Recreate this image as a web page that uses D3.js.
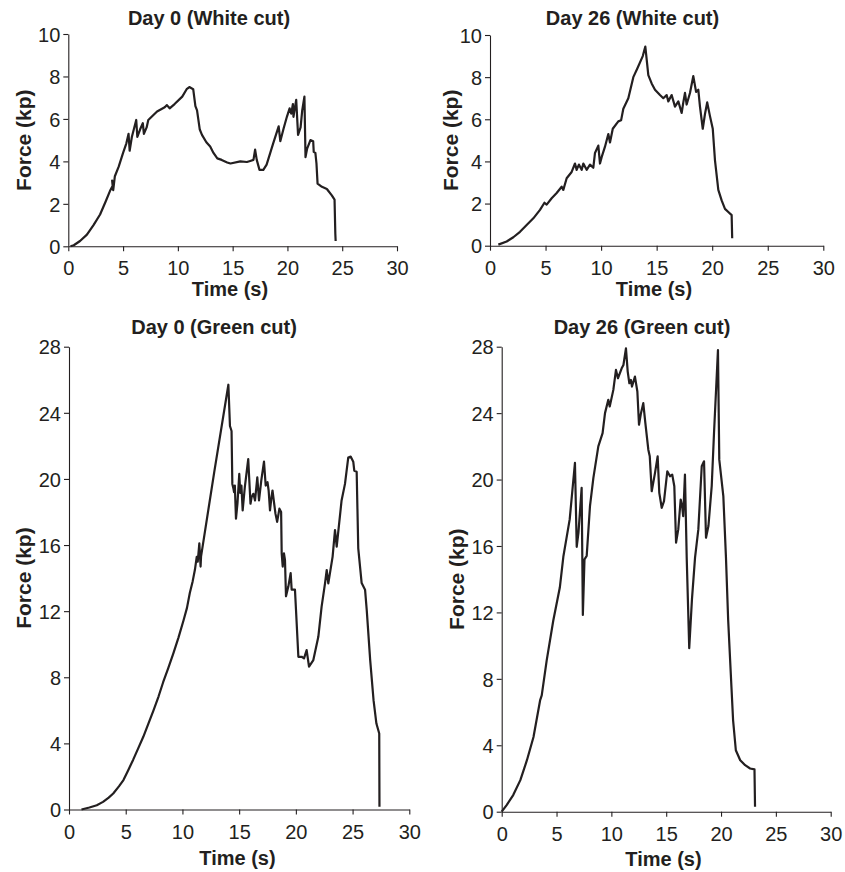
<!DOCTYPE html>
<html>
<head>
<meta charset="utf-8">
<script src="https://cdn.jsdelivr.net/npm/d3@7"></script>
<style>
html,body{margin:0;padding:0;background:#fff;}
svg{display:block;}
text{font-family:"Liberation Sans",Arial,Helvetica,sans-serif;fill:#231f20;}
</style>
</head>
<body>
<svg id="chart" width="845" height="872"></svg>
<script>
// ---------------- DATA ----------------
const titles = ["Day 0 (White cut)", "Day 26 (White cut)", "Day 0 (Green cut)", "Day 26 (Green cut)"];
const xLabel = "Time (s)";
const yLabel = "Force (kp)";
const xTicks = [0, 5, 10, 15, 20, 25, 30];
const yTicksWhite = [0, 2, 4, 6, 8, 10];
const yTicksGreen = [0, 4, 8, 12, 16, 20, 24, 28];

// [time (s), force (kp)]
const day0White = [
  [0.2,0],[0.5,0.05],[1.07,0.25],[1.7,0.55],[2.3,1.0],[2.9,1.5],[3.4,2.1],[3.8,2.6],[4.05,2.85],[4.0,3.1],[4.1,2.65],[4.25,3.3],
  [4.6,3.75],[5.0,4.4],[5.3,4.85],[5.5,5.3],[5.6,4.5],[5.8,5.15],[6.2,5.95],[6.3,5.15],[6.55,5.5],[6.8,5.8],[6.9,5.3],
  [7.15,5.6],[7.3,5.95],[8.1,6.35],[8.8,6.55],[9.0,6.65],[9.25,6.5],[9.7,6.7],[10.4,7.05],[10.8,7.4],[11.05,7.5],
  [11.4,7.4],[11.6,6.6],[11.75,6.4],[12.0,5.5],[12.2,5.25],[12.6,4.9],[12.95,4.7],[13.25,4.4],[13.6,4.14],[14.0,4.07],
  [14.5,3.95],[14.8,3.9],[15.7,4.0],[16.3,3.97],[16.6,4.02],[16.9,4.07],[17.05,4.55],[17.2,4.07],[17.45,3.6],[17.8,3.6],
  [18.1,3.85],[18.7,4.85],[19.2,5.65],[19.35,4.95],[19.65,5.55],[19.95,6.1],[20.2,6.5],[20.35,6.25],[20.5,6.7],[20.55,6.1],
  [20.8,6.9],[20.97,5.25],[21.2,5.6],[21.35,6.4],[21.55,7.05],[21.65,4.2],[21.8,4.6],[22.1,5.0],[22.35,4.95],[22.4,4.45],
  [22.55,4.4],[22.65,3.9],[22.75,2.95],[23.15,2.8],[23.6,2.7],[24.05,2.4],[24.3,2.2],[24.37,0.6],[24.4,0.25]
];
const day26White = [
  [0.75,0.05],[1.5,0.2],[2.1,0.4],[2.7,0.66],[3.3,0.98],[3.9,1.3],[4.5,1.7],[4.9,2.04],[5.1,1.95],[5.55,2.25],[6.0,2.5],
  [6.45,2.8],[6.6,2.65],[6.9,3.2],[7.35,3.5],[7.65,3.9],[7.8,3.6],[8.0,3.85],[8.25,3.6],[8.4,3.9],[8.7,3.6],[9.0,3.85],
  [9.3,3.7],[9.45,4.4],[9.75,4.75],[9.9,3.9],[10.05,4.2],[10.35,4.7],[10.65,5.3],[10.8,4.9],[11.05,5.55],[11.55,5.9],
  [11.8,5.95],[12.0,6.5],[12.45,7.0],[12.9,8.0],[13.25,8.4],[13.75,9.0],[13.98,9.45],[14.05,9.1],[14.25,8.1],[14.55,7.7],
  [14.85,7.4],[15.3,7.15],[15.6,7.0],[15.9,7.15],[16.05,6.85],[16.35,7.15],[16.65,6.6],[16.95,6.85],[17.25,6.3],[17.4,6.8],
  [17.55,7.25],[17.7,6.7],[18.0,7.25],[18.3,8.05],[18.55,7.3],[18.75,7.4],[18.9,6.6],[19.15,5.55],[19.35,6.25],[19.55,6.8],
  [19.8,6.15],[20.05,5.55],[20.25,4.05],[20.55,2.65],[20.85,2.15],[21.15,1.75],[21.45,1.6],[21.75,1.45],[21.8,0.35]
];
const day0Green = [
  [1.1,0],[1.8,0.12],[2.45,0.26],[3.0,0.46],[3.5,0.72],[3.9,0.97],[4.4,1.4],[4.8,1.78],[5.2,2.35],[5.65,3.0],[6.1,3.7],
  [6.55,4.4],[7.0,5.2],[7.45,6.0],[7.9,6.85],[8.3,7.7],[8.75,8.55],[9.2,9.45],[9.65,10.4],[10.1,11.45],[10.4,12.2],
  [10.65,13.1],[10.9,13.8],[11.1,14.5],[11.26,15.29],[11.35,15.0],[11.49,16.1],[11.6,14.7],[11.64,15.3],[12.8,20.4],
  [14.05,25.7],[14.19,23.2],[14.33,22.9],[14.4,19.7],[14.5,19.4],[14.55,19.2],[14.62,19.6],[14.72,17.6],[14.85,18.5],
  [15.01,20.3],[15.1,19.15],[15.2,19.6],[15.31,18.1],[15.5,19.5],[15.8,21.2],[16.0,18.5],[16.1,18.9],[16.25,19.1],
  [16.4,18.7],[16.6,20.1],[16.75,18.7],[16.95,19.9],[17.19,21.05],[17.34,19.6],[17.5,19.8],[17.6,19.3],[17.72,18.1],
  [17.85,18.9],[17.94,19.3],[18.2,17.9],[18.35,17.4],[18.55,18.2],[18.7,18.0],[18.75,15.5],[18.84,14.7],[18.95,15.5],
  [19.04,15.1],[19.13,12.9],[19.34,13.5],[19.54,14.3],[19.63,13.3],[19.92,13.3],[20.01,12.1],[20.22,9.24],[20.51,9.24],
  [20.72,9.14],[20.95,9.64],[21.16,8.64],[21.54,9.04],[21.98,10.45],[22.27,12.27],[22.57,13.68],[22.72,14.49],[22.86,13.68],
  [23.24,15.3],[23.45,16.9],[23.6,15.9],[24.03,18.7],[24.33,19.7],[24.62,21.3],[24.83,21.35],[25.06,21.04],[25.15,20.5],
  [25.36,20.44],[25.5,15.8],[25.8,13.7],[26.1,13.3],[26.25,12.05],[26.55,9.05],[26.85,6.6],[27.1,5.2],[27.35,4.6],[27.37,0.16]
];
const day26Green = [
  [0,0],[0.45,0.4],[1.05,1.0],[1.7,1.9],[2.3,3.1],[2.9,4.5],[3.5,6.7],[3.65,7.0],[4.1,9.1],[4.7,11.5],[5.3,13.5],
  [5.62,15.35],[6.2,17.6],[6.68,21.0],[6.84,15.95],[7.0,16.8],[7.29,19.5],[7.4,11.85],[7.55,15.2],[7.75,15.4],[8.05,18.4],
  [8.36,20.1],[8.81,22.0],[9.2,22.8],[9.42,24.0],[9.72,24.8],[9.85,24.4],[10.18,25.4],[10.42,26.6],[10.6,26.1],[10.94,26.7],
  [11.1,26.9],[11.33,27.9],[11.49,26.5],[11.64,25.8],[11.78,26.0],[11.88,25.6],[12.15,26.2],[12.37,25.3],[12.52,23.3],
  [12.7,24.0],[12.91,24.6],[13.1,23.4],[13.37,21.8],[13.5,21.4],[13.68,19.3],[13.98,20.4],[14.22,21.4],[14.37,19.2],
  [14.59,18.3],[14.8,18.7],[15.1,20.5],[15.35,20.2],[15.55,20.3],[15.74,19.6],[15.9,16.2],[16.1,17.0],[16.32,18.8],
  [16.45,18.4],[16.55,17.8],[16.71,20.3],[16.87,15.3],[17.1,9.85],[17.35,12.8],[17.63,15.3],[17.93,17.0],[18.24,20.8],
  [18.45,21.1],[18.63,16.5],[18.85,17.2],[19.15,19.6],[19.36,22.8],[19.72,27.8],[19.84,21.2],[20.21,19.0],[20.45,15.3],
  [20.65,11.55],[20.95,7.5],[21.1,5.5],[21.35,3.7],[21.75,3.1],[22.2,2.8],[22.65,2.6],[23.05,2.55],[23.1,0.3]
];

// ---------------- LAYOUT ----------------
const ink = "#231f20";
const panels = [
  {data: day0White,  title: titles[0], yMax: 10, yTicks: yTicksWhite, x0: 68.3,  x1: 397,   yTop: 34,    yBot: 246.3,
   titleX: 209,   titleY: 18,  xlabX: 230,   xlabY: 289, ylabX: 23.5},
  {data: day26White, title: titles[1], yMax: 10, yTicks: yTicksWhite, x0: 490,   x1: 823.3, yTop: 35,    yBot: 245.7,
   titleX: 632.5, titleY: 18,  xlabX: 654,   xlabY: 289, ylabX: 450},
  {data: day0Green,  title: titles[2], yMax: 28, yTicks: yTicksGreen, x0: 69,    x1: 409.3, yTop: 346.7, yBot: 809.5,
   titleX: 214,   titleY: 327, xlabX: 237.5, xlabY: 858, ylabX: 23.5},
  {data: day26Green, title: titles[3], yMax: 28, yTicks: yTicksGreen, x0: 501.7, x1: 830.7, yTop: 346.7, yBot: 811.7,
   titleX: 642,   titleY: 327, xlabX: 663.5, xlabY: 859, ylabX: 456.5}
];

const svg = d3.select("#chart");

panels.forEach(p => {
  const x = d3.scaleLinear().domain([0, 30]).range([p.x0, p.x1]);
  const y = d3.scaleLinear().domain([0, p.yMax]).range([p.yBot, p.yTop]);
  const g = svg.append("g");

  // axes
  const xa = g.append("g").attr("transform", `translate(0,${p.yBot})`)
    .call(d3.axisBottom(x).tickValues(xTicks).tickSize(5).tickPadding(10).tickSizeOuter(0));
  const ya = g.append("g").attr("transform", `translate(${p.x0},0)`)
    .call(d3.axisLeft(y).tickValues(p.yTicks).tickSize(5).tickPadding(3).tickSizeOuter(0));
  [xa, ya].forEach(a => {
    a.select(".domain").attr("stroke", ink).attr("stroke-width", 1.1);
    a.selectAll(".tick line").attr("stroke", ink).attr("stroke-width", 1.1);
    a.selectAll(".tick text").attr("fill", ink).style("font-size", "20px")
      .style("font-family", '"Liberation Sans",Arial,sans-serif');
  });
  ya.selectAll(".tick text").attr("dy", "0.36em");

  // line
  const line = d3.line().x(d => x(d[0])).y(d => y(d[1]));
  g.append("path").datum(p.data).attr("d", line)
    .attr("fill", "none").attr("stroke", ink).attr("stroke-width", 2.2)
    .attr("stroke-linejoin", "round").attr("stroke-linecap", "butt");

  // texts
  g.append("text").attr("x", p.titleX).attr("y", p.titleY).attr("text-anchor", "middle")
    .attr("dominant-baseline", "central").style("font-size", "20px").style("font-weight", "bold").text(p.title);
  g.append("text").attr("x", p.xlabX).attr("y", p.xlabY).attr("text-anchor", "middle")
    .attr("dominant-baseline", "central").style("font-size", "20px").style("font-weight", "bold").text(xLabel);
  g.append("text").attr("transform", `translate(${p.ylabX},${(p.yTop + p.yBot) / 2}) rotate(-90)`)
    .attr("text-anchor", "middle").attr("dominant-baseline", "central")
    .style("font-size", "21px").style("font-weight", "bold").text(yLabel);
});
</script>
</body>
</html>
